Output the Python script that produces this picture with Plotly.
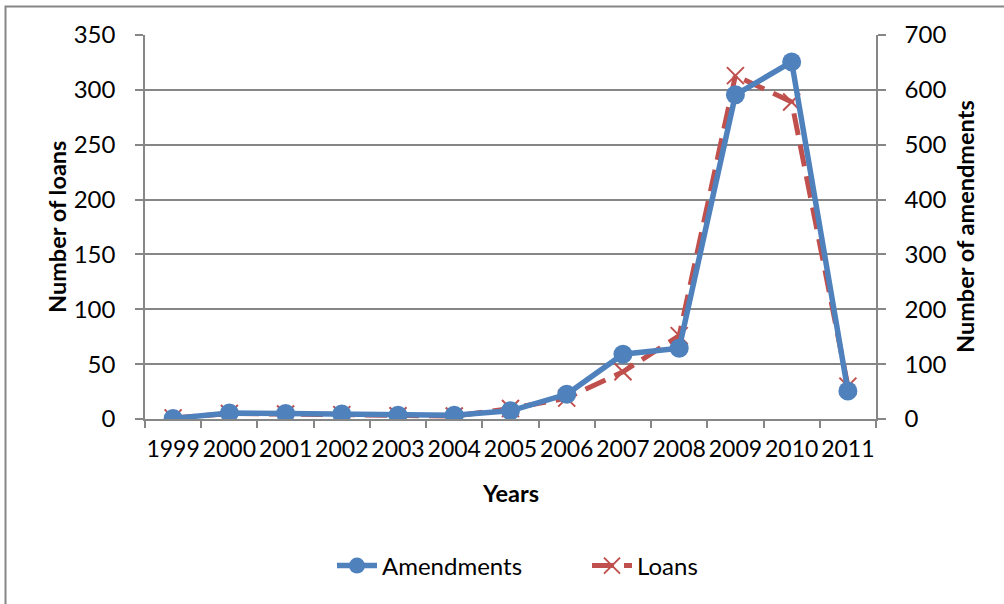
import plotly.graph_objects as go

years = ["1999", "2000", "2001", "2002", "2003", "2004", "2005", "2006",
         "2007", "2008", "2009", "2010", "2011"]
amendments = [1, 11, 10, 9, 7, 7, 15, 45, 118, 129, 591, 651, 51]
loans = [1, 5, 4.5, 4, 3, 2.7, 9.5, 19, 43, 76, 313, 289, 30]

FONT = "Lato"
GRID = "#868686"
W, H = 1004, 604
L, R, T, B = 145, 876, 35, 419

def px(x):
    return (x - L) / (R - L)

def py(y):
    return (B - y) / (B - T)

fig = go.Figure()
fig.add_trace(go.Scatter(
    x=years, y=amendments, name="Amendments", yaxis="y2",
    mode="lines+markers",
    line=dict(color="#4F81BD", width=5.5),
    marker=dict(symbol="circle", size=19, color="#4F81BD"),
))
fig.add_trace(go.Scatter(
    x=years, y=loans, name="Loans", yaxis="y",
    mode="lines+markers",
    line=dict(color="#C0504D", width=5, dash="22px,10px"),
    marker=dict(symbol="x-thin", size=17, line=dict(color="#C0504D", width=2)),
))

fig.update_layout(
    width=W, height=H,
    margin=dict(l=L, r=W - R, t=T, b=H - B),
    paper_bgcolor="white", plot_bgcolor="white",
    font=dict(family=FONT, size=24, color="black"),
    showlegend=True,
    legend=dict(orientation="h", x=px(332), y=py(566), xanchor="left",
                yanchor="middle", font=dict(size=24), itemwidth=40,
                entrywidth=200, traceorder="normal"),
    xaxis=dict(type="category", tickson="boundaries", ticks="outside",
               ticklen=7, tickwidth=1.5, tickcolor=GRID, showgrid=False,
               showline=True, linecolor=GRID, linewidth=1.5, tickangle=0,
               range=[-0.5, 12.5], ticklabelstandoff=9,
               tickfont=dict(size=23)),
    yaxis=dict(range=[0, 350], dtick=50, ticks="outside", ticklen=8,
               tickwidth=1.5, tickcolor=GRID, showgrid=True, gridcolor=GRID,
               gridwidth=1.5, showline=True, linecolor=GRID, linewidth=1.5,
               zeroline=False, ticklabelstandoff=15, tickfont=dict(size=24)),
    yaxis2=dict(range=[0, 700], dtick=100, overlaying="y", side="right",
                ticks="outside", ticklen=8, tickwidth=1.5, tickcolor=GRID,
                showgrid=False, showline=True, linecolor=GRID, linewidth=1.5,
                zeroline=False, ticklabelstandoff=14, tickfont=dict(size=24)),
    annotations=[
        dict(text="<b>Years</b>", x=px(510), y=py(493), xref="paper",
             yref="paper", showarrow=False, font=dict(size=23.5),
             xanchor="center", yanchor="middle"),
        dict(text="<b>Number of loans</b>", x=px(57), y=py(227),
             xref="paper", yref="paper", showarrow=False, textangle=-90,
             font=dict(size=23.5), xanchor="center", yanchor="middle"),
        dict(text="<b>Number of amendments</b>", x=px(965), y=py(227),
             xref="paper", yref="paper", showarrow=False, textangle=-90,
             font=dict(size=23.5), xanchor="center", yanchor="middle"),
    ],
    shapes=[
        dict(type="rect", xref="paper", yref="paper",
             x0=px(5.5), x1=px(1012), y0=py(612), y1=py(6.5),
             line=dict(color=GRID, width=2), fillcolor="rgba(0,0,0,0)",
             layer="below"),
    ],
)

fig.write_html("out.html")
